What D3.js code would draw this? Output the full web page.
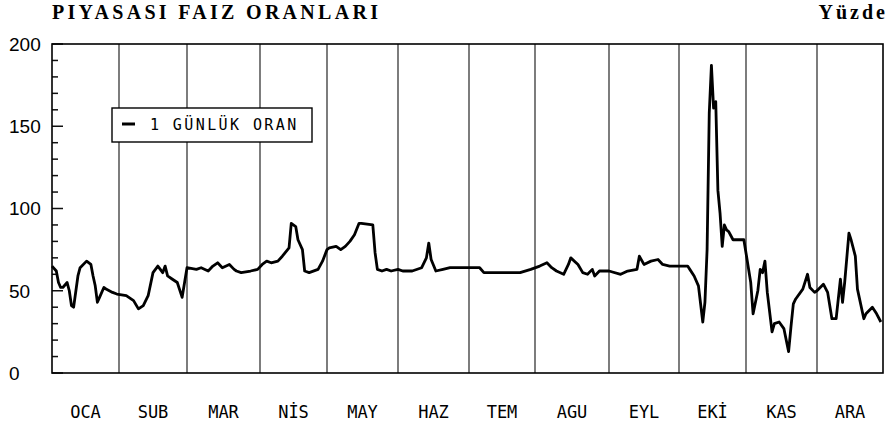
<!DOCTYPE html>
<html>
<head>
<meta charset="utf-8">
<script src="https://cdn.jsdelivr.net/npm/d3@7"></script>
<style>
  body { margin: 0; background: #fff; }
</style>
</head>
<body>
<div id="chart"></div>
<script>
const year = 1991;
const title = "PIYASASI FAIZ ORANLARI";
const unitLabel = "Yüzde";
const seriesName = "1 GÜNLÜK ORAN";
const monthLabels = ["OCA", "SUB", "MAR", "NİS", "MAY", "HAZ", "TEM", "AGU", "EYL", "EKİ", "KAS", "ARA"];
const yTickLabels = [0, 50, 100, 150, 200];

// overnight rate (MM-DD)
const rateDates = [
    "01-01", "01-03", "01-04", "01-05", "01-06", "01-08", "01-09", "01-10", "01-11", "01-13",
    "01-14", "01-17", "01-19", "01-20", "01-21", "01-22", "01-23", "01-25", "01-26", "01-29",
    "01-31", "02-04", "02-07", "02-09", "02-11", "02-13", "02-15", "02-17", "02-19", "02-20",
    "02-21", "02-23", "02-25", "02-27", "02-28", "03-01", "03-05", "03-07", "03-10", "03-12",
    "03-14", "03-16", "03-19", "03-21", "03-22", "03-24", "03-28", "03-31", "04-02", "04-04",
    "04-06", "04-09", "04-11", "04-14", "04-15", "04-17", "04-18", "04-20", "04-21", "04-23",
    "04-27", "04-29", "05-01", "05-02", "05-05", "05-07", "05-09", "05-11", "05-13", "05-15",
    "05-16", "05-21", "05-22", "05-23", "05-25", "05-27", "05-29", "06-01", "06-03", "06-07",
    "06-11", "06-13", "06-14", "06-15", "06-17", "06-20", "06-23", "07-01", "07-06", "07-08",
    "07-25", "07-30", "08-03", "08-06", "08-08", "08-10", "08-13", "08-15", "08-16", "08-19",
    "08-21", "08-23", "08-25", "08-26", "08-28", "09-01", "09-06", "09-09", "09-13", "09-14",
    "09-16", "09-19", "09-22", "09-24", "09-27", "10-01", "10-05", "10-06", "10-08", "10-10",
    "10-12", "10-13", "10-14", "10-15", "10-16", "10-17", "10-18", "10-19", "10-20", "10-21",
    "10-22", "10-23", "10-24", "10-26", "10-31", "11-01", "11-03", "11-04", "11-06", "11-07",
    "11-08", "11-09", "11-10", "11-12", "11-13", "11-15", "11-17", "11-19", "11-20", "11-21",
    "11-22", "11-25", "11-27", "11-28", "11-30", "12-01", "12-04", "12-06", "12-08", "12-10",
    "12-12", "12-13", "12-14", "12-16", "12-17", "12-19", "12-20", "12-23", "12-24", "12-27",
    "12-29", "12-31"
];
const rateValues = [
    65, 62, 55, 52, 52, 55, 50, 41, 40, 59,
    64, 68, 66, 59, 53, 43, 46, 52, 51, 49,
    48, 47, 44, 39, 41, 47, 61, 65, 61, 65,
    59, 57, 55, 46, 55, 64, 63, 64, 62, 65,
    67, 64, 66, 63, 62, 61, 62, 63, 66, 68,
    67, 68, 71, 76, 91, 89, 81, 75, 62, 61,
    63, 68, 75, 76, 77, 75, 77, 80, 84, 91,
    91, 90, 73, 63, 62, 63, 62, 63, 62, 62,
    64, 70, 79, 69, 62, 63, 64, 64, 64, 61,
    61, 63, 65, 67, 64, 62, 60, 66, 70, 66,
    61, 60, 63, 59, 62, 62, 60, 62, 63, 71,
    66, 68, 69, 66, 65, 65, 65, 63, 59, 53,
    31, 43, 75, 158, 187, 161, 165, 111, 97, 77,
    90, 87, 86, 81, 81, 73, 55, 36, 50, 63,
    61, 68, 49, 25, 30, 31, 27, 13, 28, 42,
    45, 51, 60, 52, 49, 50, 54, 49, 33, 33,
    57, 43, 55, 85, 81, 71, 51, 33, 36, 40,
    36, 31
];

const width = 889,
    height = 430;
const plotTop = 44,
    plotBottom = 373;

const parse = d3.timeParse("%Y-%m-%d");
const data = rateDates.map((d, i) => ({ date: parse(year + "-" + d), value: rateValues[i] }));

// month edges in the original are not quite proportional to days
const monthStarts = d3.range(13).map((m) => new Date(year, m, 1));
const monthEdges = [52, 119, 187, 260, 327, 398, 469, 535, 609, 679, 746, 817, 883];

const x = d3.scaleTime().domain(monthStarts).range(monthEdges);
const y = d3.scaleLinear().domain([0, 200]).range([plotBottom, plotTop]);

const svg = d3
    .select("#chart")
    .append("svg")
    .attr("width", width)
    .attr("height", height);

// titles
svg.append("text")
    .attr("x", 52)
    .attr("y", 19)
    .attr("font-family", "'Liberation Serif', 'DejaVu Serif', serif")
    .attr("font-weight", "bold")
    .attr("font-size", 20)
    .attr("letter-spacing", 3.3)
    .text(title);

svg.append("text")
    .attr("x", 888)
    .attr("y", 19)
    .attr("text-anchor", "end")
    .attr("font-family", "'Liberation Serif', 'DejaVu Serif', serif")
    .attr("font-weight", "bold")
    .attr("font-size", 20)
    .attr("letter-spacing", 3)
    .text(unitLabel);

// month dividers
svg.append("g")
    .selectAll("line")
    .data(monthStarts.slice(1, 12))
    .enter()
    .append("line")
    .attr("x1", (d) => x(d))
    .attr("x2", (d) => x(d))
    .attr("y1", plotTop)
    .attr("y2", plotBottom)
    .attr("stroke", "#111")
    .attr("stroke-width", 1.1);

// y ticks, inward on the left side
svg.append("g")
    .selectAll("line")
    .data(d3.range(0, 201, 10))
    .enter()
    .append("line")
    .attr("x1", x.range()[0])
    .attr("x2", (d) => x.range()[0] + (d % 50 === 0 ? 11 : 6))
    .attr("y1", (d) => y(d))
    .attr("y2", (d) => y(d))
    .attr("stroke", "#111")
    .attr("stroke-width", 1.5);

svg.append("g")
    .selectAll("text")
    .data(yTickLabels)
    .enter()
    .append("text")
    .attr("x", 9)
    .attr("y", (d) => y(d))
    .attr("dy", "0.36em")
    .attr("font-family", "'Liberation Sans', Arial, sans-serif")
    .attr("font-size", 19)
    .text((d) => d);

// month labels centred in each month
svg.append("g")
    .selectAll("text")
    .data(monthLabels)
    .enter()
    .append("text")
    .attr("x", (d, i) => (x(monthStarts[i]) + x(monthStarts[i + 1])) / 2)
    .attr("y", 418)
    .attr("text-anchor", "middle")
    .attr("font-family", "'DejaVu Sans Mono', monospace")
    .attr("font-size", 17)
    .text((d) => d);

// the rate line
const line = d3
    .line()
    .x((d) => x(d.date))
    .y((d) => y(d.value));

svg.append("path")
    .datum(data)
    .attr("d", line)
    .attr("fill", "none")
    .attr("stroke", "#000")
    .attr("stroke-width", 2.8)
    .attr("stroke-linejoin", "round");

// frame
svg.append("rect")
    .attr("x", x.range()[0])
    .attr("y", plotTop)
    .attr("width", x.range()[x.range().length - 1] - x.range()[0])
    .attr("height", plotBottom - plotTop)
    .attr("fill", "none")
    .attr("stroke", "#000")
    .attr("stroke-width", 1.6);

// legend
const legend = svg.append("g").attr("transform", "translate(112,108)");
legend.append("rect")
    .attr("width", 200)
    .attr("height", 34)
    .attr("fill", "#fff")
    .attr("stroke", "#000")
    .attr("stroke-width", 1.4);
legend.append("line")
    .attr("x1", 10)
    .attr("x2", 23)
    .attr("y1", 16)
    .attr("y2", 16)
    .attr("stroke", "#000")
    .attr("stroke-width", 3);
legend.append("text")
    .attr("x", 38)
    .attr("y", 22)
    .attr("font-family", "'DejaVu Sans Mono', monospace")
    .attr("font-size", 15)
    .attr("letter-spacing", 2.4)
    .text(seriesName);
</script>
</body>
</html>
